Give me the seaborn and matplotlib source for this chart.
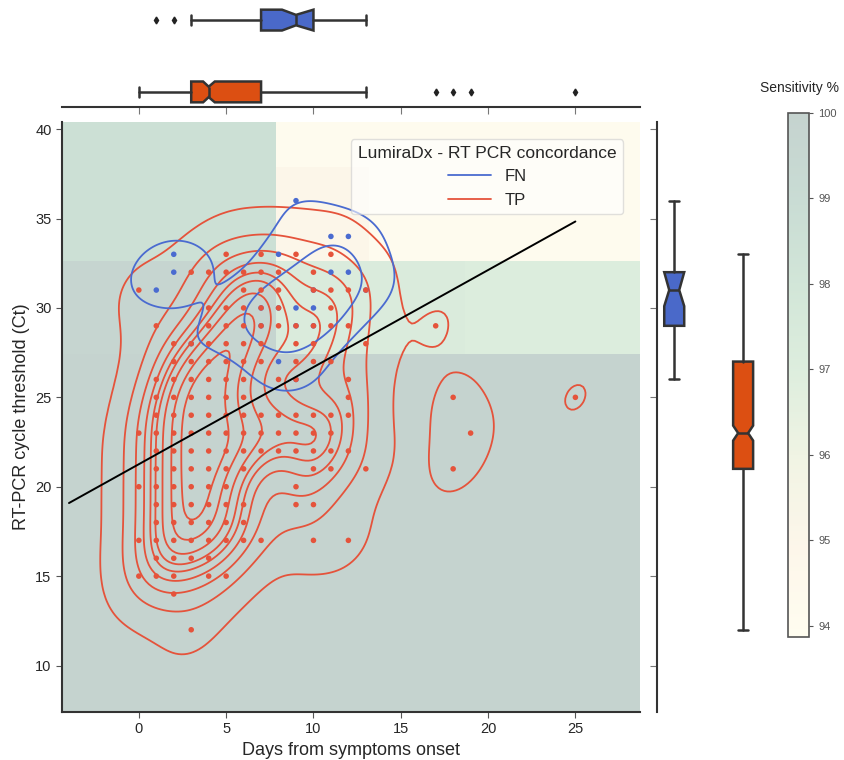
import numpy as np
import pandas as pd
import matplotlib
matplotlib.use("Agg")
import matplotlib.pyplot as plt
import seaborn as sns
from matplotlib.colors import LinearSegmentedColormap, Normalize
from matplotlib.cm import ScalarMappable
from matplotlib.lines import Line2D

# ---- data ----
# false negatives: (days, Ct); the last nine sit underneath TP dots
fn_days = [9, 11, 12, 2, 8, 2, 11, 12, 1, 9, 10, 8, 3, 7, 7, 8, 9, 10, 10, 13, 9]
fn_ct = [36, 34, 34, 33, 33, 32, 32, 32, 31, 30, 30, 27, 28, 29, 30, 30, 29, 29, 31, 31, 26]

# true positives, days listed per Ct row
tp_rows = {
    33: [5, 7, 9, 11],
    32: [3, 4, 5, 6, 7, 8, 10],
    31: [0, 6, 7, 8, 10, 11, 12, 13],
    30: [4, 5, 6, 7, 8, 11],
    29: [1, 4, 5, 6, 7, 8, 9, 10, 11, 12, 17],
    28: [2, 3, 4, 5, 6, 7, 9, 10, 13],
    27: [2, 3, 4, 5, 6, 7, 9, 10, 11],
    26: [1, 2, 3, 4, 5, 6, 8, 9, 12],
    25: [1, 2, 3, 4, 5, 6, 12, 18, 25],
    24: [1, 2, 3, 4, 5, 6, 7, 8, 9, 10, 11, 12],
    23: [0, 1, 2, 3, 4, 5, 6, 7, 8, 9, 10, 11, 19],
    22: [1, 2, 3, 4, 5, 6, 7, 8, 9, 10, 11, 12],
    21: [1, 2, 3, 4, 5, 6, 10, 11, 13, 18],
    20: [0, 1, 2, 3, 4, 5, 9],
    19: [1, 2, 3, 4, 5, 6, 9, 10],
    18: [1, 2, 3, 4, 5, 6],
    17: [0, 1, 2, 3, 4, 5, 6, 7, 10, 12],
    16: [1, 2, 3, 4],
    15: [0, 1, 2, 4, 5],
    14: [2],
    12: [3],
}

# regression line
fit_intercept = 21.26
fit_slope = 0.543
fit_x = [-4, 25]

# sensitivity background grid
sens_x_edges = [-4.4, 7.85, 13.2, 18.7, 28.7]
sens_y_edges = [7.4, 27.4, 32.6, 37.9, 40.4]
sens_values = [
    [100.0, 100.0, 100.0, 100.0],
    [99.8, 97.3, 97.3, 97.1],
    [98.6, 95.0, 94.2, 94.2],
    [98.6, 94.2, 94.2, 94.2],
]
sens_ticks = [94, 95, 96, 97, 98, 99, 100]
sens_colors = ["#fffdf0", "#fdf6ea", "#f1f4e4", "#deeede", "#d2e6d8", "#c9dcd4", "#c5d3cf"]

# marginal box statistics (FN, TP)
box_groups = ["FN", "TP"]
days_q1 = [7, 3]
days_med = [9, 4]
days_q3 = [10, 7]
days_whislo = [3, 0]
days_whishi = [13, 13]
days_ci_lo = [8.2, 3.68]
days_ci_hi = [10.0, 4.35]
days_fliers = [[1, 2], [17, 18, 19, 25]]

ct_q1 = [29, 21]
ct_med = [31, 23]
ct_q3 = [32, 27]
ct_whislo = [26, 12]
ct_whishi = [36, 33]
ct_ci_lo = [30.1, 22.58]
ct_ci_hi = [32.0, 23.42]
ct_fliers = [[], []]

hue_title = "LumiraDx - RT PCR concordance"
point_colors = {"FN": "#4a6bd0", "TP": "#e5533b"}
box_colors = ["#4a69c9", "#dc4f12"]

# ---- build table ----
tp_days, tp_ct = [], []
for ct, days in tp_rows.items():
    tp_days += days
    tp_ct += [ct] * len(days)

xcol, ycol = "Days from symptoms onset", "RT-PCR cycle threshold (Ct)"
df = pd.DataFrame({
    xcol: fn_days + tp_days,
    ycol: fn_ct + tp_ct,
    hue_title: ["FN"] * len(fn_days) + ["TP"] * len(tp_days),
})

sns.set_style("ticks")
plt.rcParams["font.family"] = ["Liberation Sans", "DejaVu Sans"]

fig = plt.figure(figsize=(8.44, 7.6), dpi=100)
W, H = 844, 760
ax = fig.add_axes([62 / W, 48 / H, 578 / W, 590 / H])
ax_top = fig.add_axes([62 / W, 653 / H, 578 / W, 102 / H])
ax_right = fig.add_axes([657 / W, 48 / H, 113 / W, 590 / H])
ax_cb = fig.add_axes([788 / W, 123 / H, 21 / W, 524 / H])

cmap = LinearSegmentedColormap.from_list("sens", sens_colors)
norm = Normalize(vmin=93.87, vmax=100)

# background
ax.pcolormesh(sens_x_edges, sens_y_edges, np.array(sens_values), cmap=cmap, norm=norm, zorder=0)

sns.kdeplot(data=df[df[hue_title] == "TP"], x=xcol, y=ycol, color=point_colors["TP"],
            bw_adjust=0.8, thresh=0.04, linewidths=1.3, ax=ax)
sns.kdeplot(data=df[df[hue_title] == "FN"], x=xcol, y=ycol, color=point_colors["FN"],
            bw_adjust=0.95, levels=[0.25, 0.65], linewidths=1.3, ax=ax)
sns.scatterplot(data=df, x=xcol, y=ycol,
                hue=hue_title, hue_order=box_groups, palette=point_colors,
                s=16, linewidth=0, legend=False, ax=ax, zorder=3)

fx = np.array(fit_x)
ax.plot(fx, fit_intercept + fit_slope * fx, color="black", lw=1.4, zorder=4)

ax.set_xlim(-4.4, 28.7)
ax.set_ylim(7.4, 40.4)
ax.set_xticks([0, 5, 10, 15, 20, 25])
ax.set_yticks([10, 15, 20, 25, 30, 35, 40])
ax.tick_params(labelsize=10.5, length=4, color="#555555")
ax.set_xlabel(xcol, fontsize=13)
ax.set_ylabel(ycol, fontsize=13)
for side in ["top", "right"]:
    ax.spines[side].set_visible(False)
for side in ["left", "bottom"]:
    ax.spines[side].set_color("#333333")
    ax.spines[side].set_linewidth(1.5)

handles = [Line2D([], [], color=point_colors[g], lw=1.3) for g in box_groups]
leg = ax.legend(handles, box_groups, title=hue_title, loc="upper right",
                bbox_to_anchor=(0.985, 0.985), fontsize=12, title_fontsize=12.5,
                frameon=True, handlelength=2.6)
leg.get_frame().set_facecolor("white")
leg.get_frame().set_alpha(0.6)

# marginal boxplots
def stats(q1, med, q3, lo, hi, cilo, cihi, fliers):
    out = []
    for i in range(len(q1)):
        out.append(dict(q1=q1[i], med=med[i], q3=q3[i], whislo=lo[i], whishi=hi[i],
                        cilo=cilo[i], cihi=cihi[i], fliers=fliers[i]))
    return out

line_kw = dict(color="#333333", linewidth=1.8)
flier_kw = dict(marker="d", markersize=3.5, markerfacecolor="#222222", markeredgecolor="#222222")

top_stats = stats(days_q1, days_med, days_q3, days_whislo, days_whishi, days_ci_lo, days_ci_hi, days_fliers)
bp = ax_top.bxp(top_stats, positions=[1, 0], widths=0.29, orientation="horizontal",
                shownotches=True, patch_artist=True, boxprops=dict(edgecolor="#333333", linewidth=1.8),
                whiskerprops=line_kw, capprops=line_kw, medianprops=line_kw, flierprops=flier_kw)
for patch, c in zip(bp["boxes"], box_colors):
    patch.set_facecolor(c)
ax_top.set_xlim(-4.4, 28.7)
ax_top.set_ylim(-0.21, 1.21)
ax_top.set_xticks([0, 5, 10, 15, 20, 25])
ax_top.set_xticklabels([])
ax_top.set_yticks([])
for side in ["top", "right", "left"]:
    ax_top.spines[side].set_visible(False)
ax_top.spines["bottom"].set_color("#333333")
ax_top.spines["bottom"].set_linewidth(1.5)
ax_top.tick_params(axis="x", length=5, color="#777777")
ax_top.patch.set_alpha(0)

right_stats = stats(ct_q1, ct_med, ct_q3, ct_whislo, ct_whishi, ct_ci_lo, ct_ci_hi, ct_fliers)
bp = ax_right.bxp(right_stats, positions=[0, 1], widths=0.29, orientation="vertical",
                  shownotches=True, patch_artist=True, boxprops=dict(edgecolor="#333333", linewidth=1.8),
                  whiskerprops=line_kw, capprops=line_kw, medianprops=line_kw, flierprops=flier_kw)
for patch, c in zip(bp["boxes"], box_colors):
    patch.set_facecolor(c)
ax_right.set_ylim(7.4, 40.4)
ax_right.set_xlim(-0.25, 1.39)
ax_right.set_yticks([10, 15, 20, 25, 30, 35, 40])
ax_right.set_yticklabels([])
ax_right.set_xticks([])
for side in ["top", "right", "bottom"]:
    ax_right.spines[side].set_visible(False)
ax_right.spines["left"].set_color("#333333")
ax_right.spines["left"].set_linewidth(1.5)
ax_right.tick_params(axis="y", length=5, color="#777777")
ax_right.patch.set_alpha(0)

# colorbar
cb = fig.colorbar(ScalarMappable(norm=norm, cmap=cmap), cax=ax_cb, ticks=sens_ticks)
cb.outline.set_edgecolor("#555555")
cb.outline.set_linewidth(1.2)
ax_cb.tick_params(labelsize=8, colors="#555555", length=3)
fig.text(800 / W, 1 - 88 / H, "Sensitivity %", ha="center", va="center", fontsize=10)

fig.savefig("out.png", dpi=100)
